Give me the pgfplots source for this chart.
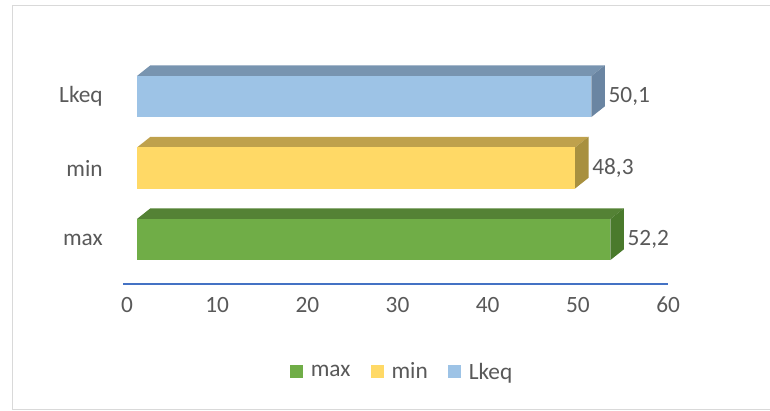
\documentclass[border=0pt]{standalone}
\usepackage{fontspec}
\setmainfont{Carlito}
\usepackage{pgfplots}
\pgfplotsset{compat=1.18}
\definecolor{txt}{HTML}{595959}
\definecolor{frame}{HTML}{D9D9D9}
\definecolor{axblue}{HTML}{4472C4}
\definecolor{gF}{HTML}{70AD47}\definecolor{gT}{HTML}{548235}\definecolor{gS}{HTML}{4A7A2C}
\definecolor{yF}{HTML}{FFD966}\definecolor{yT}{HTML}{BFA14C}\definecolor{yS}{HTML}{A8903F}
\definecolor{bF}{HTML}{9DC3E6}\definecolor{bT}{HTML}{7894B0}\definecolor{bS}{HTML}{6A85A2}
\newcommand{\cf}{\fontsize{17.5}{21}\selectfont}
\begin{document}
\begin{tikzpicture}[x=1pt,y=1pt]
\useasboundingbox (0,0) rectangle (577.5,307.5);
\draw[color=frame, line width=0.75pt] (9,0.75) rectangle (578,303);
\begin{axis}[
  at={(92.25pt,94.5pt)}, anchor=south west,
  scale only axis, width=418.6pt, height=167.44pt,
  xmin=-1.54, xmax=60, ymin=-0.622, ymax=2.5,
  enlargelimits=false, clip=false,
  axis line style={draw=none},
  major tick length=0pt, tick style={draw=none},
  xtick={-1.10,8.84,18.79,28.73,38.67,48.62,58.57},
  xticklabels={0,10,20,30,40,50,60},
  ytick={0,1,2}, yticklabels={max,min,Lkeq},
  xtick pos=bottom, ytick pos=left,
  /pgf/number format/assume math mode=true,
  /pgf/number format/use comma,
  tick label style={font=\cf, text=txt},
  xticklabel style={anchor=base, inner sep=0pt, yshift=-21pt},
  yticklabel style={anchor=east, inner sep=0pt, xshift=-15pt},
  legend style={at={(axis description cs:0.5,-0.394)}, anchor=center, draw=none,
    font=\cf, text=txt, legend columns=-1,
    /tikz/every odd column/.append style={column sep=4.5pt},
    /tikz/every even column/.append style={column sep=13.5pt},
    nodes={inner sep=1.5pt}},
  nodes near coords style={font=\cf, text=txt, anchor=west, inner sep=0pt, xshift=12.75pt},
]
\draw[axblue, line width=1.1pt] (axis cs:-1.54,-0.622) -- (axis cs:58.57,-0.622);
% 3D faces (top and side), depth dx=1.49, dy=0.15, half height 0.287
\addplot[fill=gT, draw=none, forget plot] coordinates {(0,0.287) (52.2,0.287) (53.69,0.437) (1.49,0.437)} -- cycle;
\addplot[fill=gS, draw=none, forget plot] coordinates {(52.2,-0.287) (53.69,-0.137) (53.69,0.437) (52.2,0.287)} -- cycle;
\addplot[fill=yT, draw=none, forget plot] coordinates {(0,1.287) (48.3,1.287) (49.79,1.437) (1.49,1.437)} -- cycle;
\addplot[fill=yS, draw=none, forget plot] coordinates {(48.3,0.713) (49.79,0.863) (49.79,1.437) (48.3,1.287)} -- cycle;
\addplot[fill=bT, draw=none, forget plot] coordinates {(0,2.287) (50.1,2.287) (51.59,2.437) (1.49,2.437)} -- cycle;
\addplot[fill=bS, draw=none, forget plot] coordinates {(50.1,1.713) (51.59,1.863) (51.59,2.437) (50.1,2.287)} -- cycle;
% front faces
\addplot[xbar, bar shift=0pt, bar width=0.574, fill=gF, draw=none, point meta=x, nodes near coords,
  legend image code/.code={\fill[gF] (0pt,-4.9pt) rectangle (9.75pt,4.9pt);}] coordinates {(52.2,0)};
\addplot[xbar, bar shift=0pt, bar width=0.574, fill=yF, draw=none, point meta=x, nodes near coords,
  legend image code/.code={\fill[yF] (0pt,-4.9pt) rectangle (9.75pt,4.9pt);}] coordinates {(48.3,1)};
\addplot[xbar, bar shift=0pt, bar width=0.574, fill=bF, draw=none, point meta=x, nodes near coords,
  legend image code/.code={\fill[bF] (0pt,-4.9pt) rectangle (9.75pt,4.9pt);}] coordinates {(50.1,2)};
\legend{max,min,Lkeq}
\end{axis}
\end{tikzpicture}
\end{document}
